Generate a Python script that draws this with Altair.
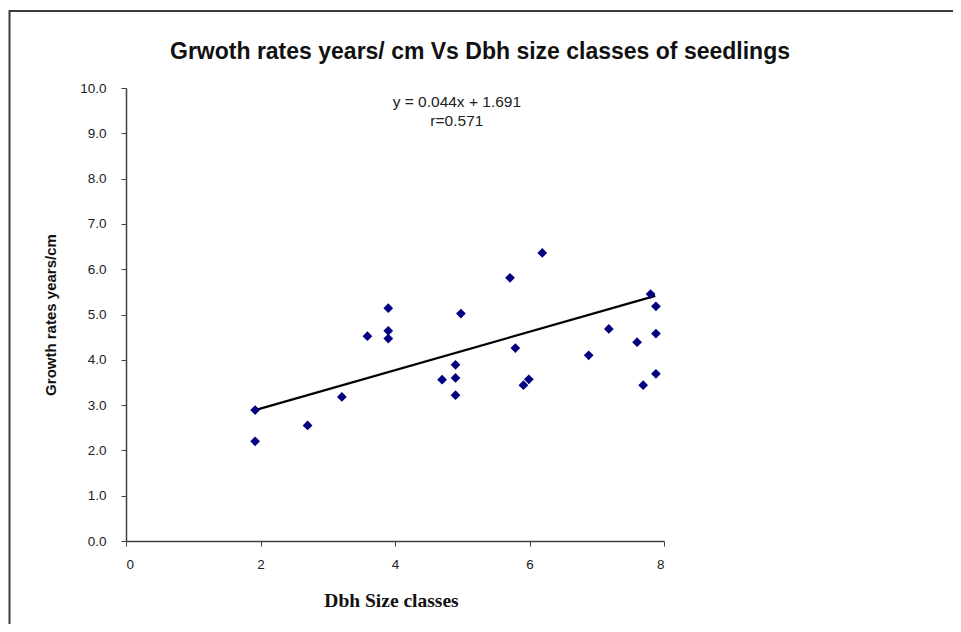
import altair as alt
import pandas as pd

# Data
dbh_class = [1.92, 1.92, 2.70, 3.21, 3.59, 3.90, 3.90, 3.90, 4.70, 4.90, 4.90, 4.90, 4.98,
             5.71, 5.79, 5.91, 5.99, 6.19, 6.88, 7.18, 7.60, 7.69, 7.80, 7.88, 7.88, 7.88]
growth_rate = [2.89, 2.20, 2.55, 3.18, 4.52, 5.14, 4.64, 4.47, 3.56, 3.89, 3.60, 3.22, 5.02,
               5.81, 4.26, 3.44, 3.57, 6.36, 4.10, 4.68, 4.39, 3.44, 5.45, 5.18, 4.58, 3.69]
trend_x = [1.92, 7.87]
trend_y = [2.89, 5.41]
x_ticks = [0, 2, 4, 6, 8]
y_ticks = [0, 1, 2, 3, 4, 5, 6, 7, 8, 9, 10]
equation_lines = ["y = 0.044x  + 1.691", "r=0.571"]
equation_x = [4.92, 4.92]
equation_y = [9.68, 9.28]
chart_title = ["Grwoth rates years/ cm Vs Dbh size classes of seedlings"]

points = pd.DataFrame({"x": dbh_class, "y": growth_rate})
trend = pd.DataFrame({"x": trend_x, "y": trend_y})
eq = pd.DataFrame({"x": equation_x, "y": equation_y, "t": equation_lines})
ttl = pd.DataFrame({"t": chart_title})

W, H = 538, 453
PAD_L, PAD_T = 118, 80
PAD_R = 945 - PAD_L - W
PAD_B = 616 - PAD_T - H

xscale = alt.Scale(domain=[0, 8], nice=False, zero=False)
yscale = alt.Scale(domain=[0, 10], nice=False, zero=False)

xaxis = alt.Axis(values=x_ticks, format="d", title="Dbh Size classes", grid=False,
                 domainColor="#404040", tickColor="#404040", tickSize=5, domainWidth=1.5,
                 labelFont="Liberation Sans", labelFontSize=13.5, labelColor="#222222",
                 labelPadding=11,
                 titleFont="Liberation Serif", titleFontSize=19.5, titleFontWeight="bold",
                 titleColor="#111111", titleY=59, titleBaseline="middle", titleX=W / 2 - 4)
yaxis = alt.Axis(values=y_ticks, format=".1f", title="Growth rates  years/cm", grid=False,
                 domainColor="#404040", tickColor="#404040", tickSize=5, domainWidth=1.5,
                 labelFont="Liberation Sans", labelFontSize=13.5, labelColor="#222222",
                 labelPadding=15,
                 titleFont="Liberation Sans", titleFontSize=15, titleFontWeight="bold",
                 titleColor="#111111", titleX=-76, titleY=H / 2, titleBaseline="middle",
                 titleAngle=270)

pts = alt.Chart(points).mark_point(shape="diamond", filled=True, size=95,
                                   color="#000080", opacity=1).encode(
    x=alt.X("x:Q", scale=xscale, axis=xaxis),
    y=alt.Y("y:Q", scale=yscale, axis=yaxis),
)

line = alt.Chart(trend).mark_line(color="#000000", strokeWidth=2.2).encode(
    x=alt.X("x:Q", scale=xscale),
    y=alt.Y("y:Q", scale=yscale),
)

eq_text = alt.Chart(eq).mark_text(font="Liberation Sans", fontSize=15.5, color="#222222",
                                  align="center", baseline="middle").encode(
    x=alt.X("x:Q", scale=xscale),
    y=alt.Y("y:Q", scale=yscale),
    text="t:N",
)

title_text = alt.Chart(ttl).mark_text(font="Liberation Sans", fontSize=23, fontWeight="bold",
                                      color="#111111", align="center",
                                      baseline="middle").encode(
    x=alt.value(354), y=alt.value(-36), text="t:N")

frame = pd.DataFrame({"k": [0]})
top_border = alt.Chart(frame).mark_rule(color="#3c3c3c", strokeWidth=2).encode(
    x=alt.value(-117), x2=alt.value(835), y=alt.value(-77))
left_border = alt.Chart(frame).mark_rule(color="#3c3c3c", strokeWidth=2).encode(
    x=alt.value(-116.5), y=alt.value(-78), y2=alt.value(H + PAD_B))

chart = alt.layer(top_border, left_border, line, pts, eq_text, title_text).properties(
    width=W, height=H,
    autosize=alt.AutoSizeParams(type="none"),
    padding={"left": PAD_L, "top": PAD_T, "right": PAD_R, "bottom": PAD_B},
).configure_view(stroke=None)

chart.save("out.html", embed_options={"renderer": "svg", "actions": False})
